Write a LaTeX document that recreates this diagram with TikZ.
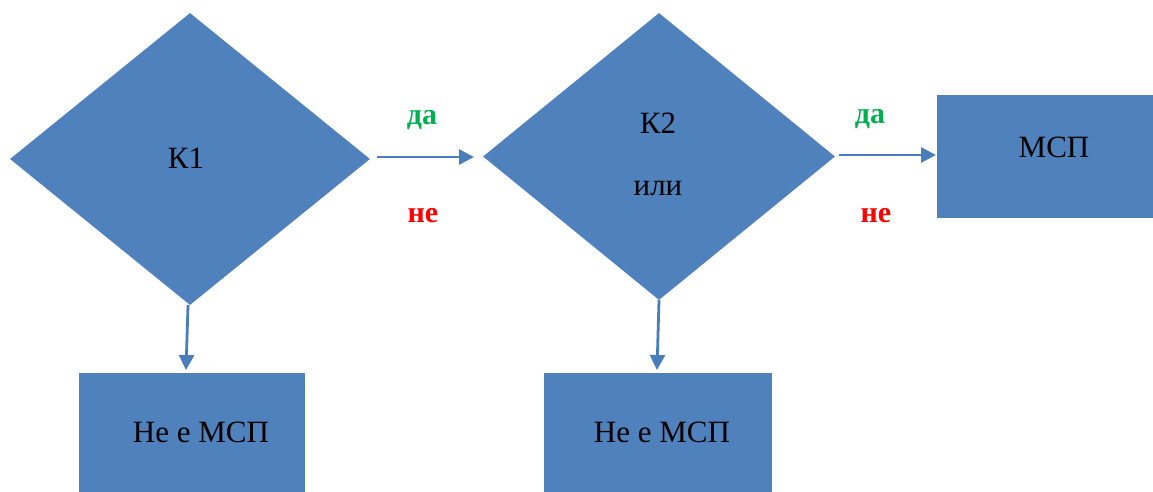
\documentclass[tikz,border=0pt]{standalone}
\usepackage{fontspec}
\setmainfont{Liberation Serif}
\usetikzlibrary{shapes.geometric,arrows.meta}
\definecolor{boxblue}{RGB}{79,129,189}
\definecolor{lineblue}{RGB}{74,126,187}
\definecolor{yesgreen}{RGB}{0,176,80}
\definecolor{nored}{RGB}{255,0,0}
\tikzset{
  dec/.style={diamond,fill=boxblue,draw=none,inner sep=0pt},
  box/.style={rectangle,fill=boxblue,draw=none,inner sep=0pt},
  conn/.style={draw=lineblue,line width=2.8pt,-{Triangle[length=15pt,width=15pt]}},
  yes/.style={text=yesgreen,font=\bfseries\fontsize{30}{34}\selectfont},
  no/.style={text=nored,font=\bfseries\fontsize{30}{34}\selectfont},
  lbl/.style={font=\fontsize{31}{36}\selectfont},
}
\begin{document}
\begin{tikzpicture}[x=1pt,y=-1pt]
\useasboundingbox (0,0) rectangle (1153,492);
\node[dec,minimum width=360pt,minimum height=292pt] (d1) at (190,159) {};
\node[lbl] (k1) at (186,158) {К1};
\node[dec,minimum width=352pt,minimum height=287pt] (d2) at (659,156.5) {};
\node[lbl] (k2) at (658,123) {К2};
\node[lbl] (ili) at (658,189) {или};
\node[box,minimum width=216pt,minimum height=123pt] (m) at (1045,156.5) {};
\node[lbl] (mt) at (1054,147) {МСП};
\node[box,minimum width=226pt,minimum height=119pt] (n1) at (192,432.5) {};
\node[lbl] (n1t) at (201,432) {Не е МСП};
\node[box,minimum width=228pt,minimum height=119pt] (n2) at (658,432.5) {};
\node[lbl] (n2t) at (662,432) {Не е МСП};
\coordinate (a1s) at (377,157);
\coordinate (a1e) at (474,157);
\coordinate (a2s) at (839,155);
\coordinate (a2e) at (936,155);
\coordinate (a3e) at (186,370);
\coordinate (a4e) at (657,370);
\draw[conn] (a1s) -- (a1e);
\draw[conn] (a2s) -- (a2e);
\draw[conn] ([xshift=-2pt]d1.south) -- (a3e);
\draw[conn] (d2.south) -- (a4e);
\node[yes] (y1) at (422,120) {да};
\node[no] (no1) at (423,216) {не};
\node[yes] (y2) at (870,119) {да};
\node[no] (no2) at (876,216) {не};
\end{tikzpicture}
\end{document}
